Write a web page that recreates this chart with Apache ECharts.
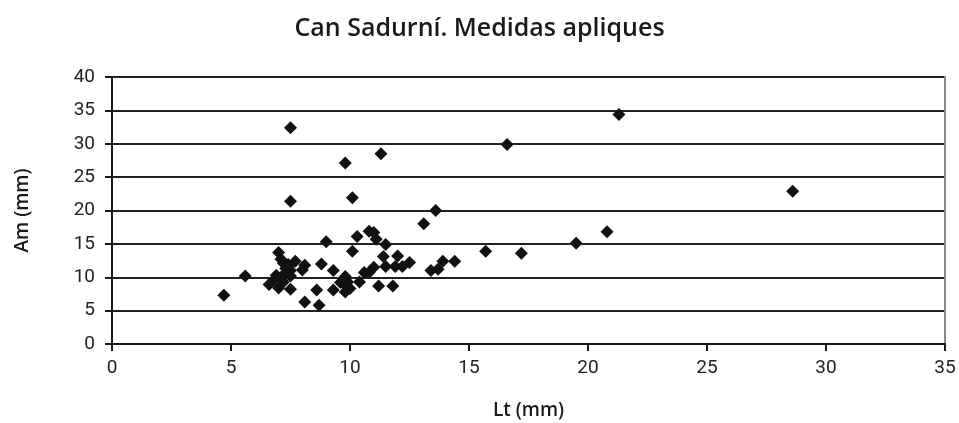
<!DOCTYPE html>
<html>
<head>
<meta charset="utf-8">
<script src="https://cdn.jsdelivr.net/npm/echarts@6/dist/echarts.min.js"></script>
<style>
  html, body { margin: 0; padding: 0; background: #fff; }
  #main { width: 959px; height: 423px; }
</style>
</head>
<body>
<div id="main"></div>
<script>
// Lt (mm) de cada aplique
var lt = [4.7, 5.6, 7.5, 7.5, 9.8, 10.1, 11.3, 13.6, 13.1, 9.0,
  10.1, 10.3, 10.8, 11.0, 11.1, 11.5, 11.4, 11.5, 11.9, 12.0,
  12.2, 12.5, 13.4, 13.7, 13.9, 14.4, 11.0, 10.8, 10.6, 10.4,
  11.2, 11.8, 9.3, 9.3, 8.8, 8.6, 8.7, 8.1, 8.0, 8.1,
  7.7, 7.5, 9.8, 9.9, 9.8, 10.0, 9.8, 9.6, 7.0, 7.1,
  7.2, 7.4, 7.5, 7.3, 7.1, 6.9, 6.6, 7.0, 7.2, 7.5,
  6.8, 7.3, 7.4, 16.6, 21.3, 28.6, 20.8, 19.5, 17.2, 15.7];
// Am (mm) de cada aplique
var am = [7.3, 10.2, 32.4, 21.4, 27.1, 21.9, 28.5, 20.0, 18.0, 15.3,
  13.9, 16.1, 16.9, 16.7, 15.7, 14.9, 13.1, 11.6, 11.6, 13.2,
  11.6, 12.2, 11.0, 11.2, 12.4, 12.4, 11.5, 10.7, 10.7, 9.3,
  8.7, 8.7, 11.0, 8.1, 12.0, 8.1, 5.8, 6.3, 11.1, 11.8,
  12.4, 8.2, 10.1, 9.3, 8.8, 8.3, 7.8, 9.2, 13.7, 12.7,
  12.1, 11.6, 11.0, 10.6, 10.0, 10.3, 8.9, 8.4, 9.3, 10.2,
  9.6, 11.3, 11.9, 29.9, 34.4, 22.9, 16.8, 15.1, 13.6, 13.9];
var xTicks = [0, 5, 10, 15, 20, 25, 30, 35];
var yTicks = [0, 5, 10, 15, 20, 25, 30, 35, 40];

var puntos = [];
for (var i = 0; i < lt.length; i++) {
  puntos.push([lt[i], am[i]]);
}

var chart = echarts.init(document.getElementById('main'));
var option = {
  animation: false,
  backgroundColor: '#fff',
  title: {
    text: 'Can Sadurní. Medidas apliques',
    left: 'center',
    top: 11,
    textStyle: { fontFamily: 'Open Sans', fontWeight: 600, fontSize: 25, color: '#1a1a1a' }
  },
  grid: { left: 112, right: 14, top: 77, bottom: 79, outerBoundsMode: 'none' },
  xAxis: {
    type: 'value',
    min: xTicks[0],
    max: xTicks[xTicks.length - 1],
    interval: 5,
    name: 'Lt (mm)',
    nameLocation: 'middle',
    nameGap: 57,
    nameTextStyle: { fontFamily: 'Open Sans', fontWeight: 600, fontSize: 19, color: '#1a1a1a' },
    axisLine: { onZero: false, lineStyle: { color: '#1a1a1a', width: 2 } },
    axisTick: { show: true, length: 7, lineStyle: { color: '#1a1a1a', width: 2 } },
    axisLabel: { fontFamily: 'Roboto', fontSize: 19, color: '#222', margin: 15 },
    splitLine: { show: false }
  },
  yAxis: [{
    type: 'value',
    min: yTicks[0],
    max: yTicks[yTicks.length - 1],
    interval: 5,
    name: 'Am (mm)',
    nameLocation: 'middle',
    nameGap: 80,
    nameRotate: 90,
    nameTextStyle: { fontFamily: 'Open Sans', fontWeight: 600, fontSize: 19, color: '#1a1a1a' },
    axisLine: { show: true, lineStyle: { color: '#1a1a1a', width: 2 } },
    axisTick: { show: true, length: 7, lineStyle: { color: '#1a1a1a', width: 2 } },
    axisLabel: { fontFamily: 'Roboto', fontSize: 19, color: '#222', margin: 17 },
    splitLine: { show: true, lineStyle: { color: '#222', width: 2 } }
  }, {
    type: 'value',
    position: 'right',
    min: yTicks[0],
    max: yTicks[yTicks.length - 1],
    interval: 5,
    axisLine: { show: true, lineStyle: { color: '#888', width: 2 } },
    axisTick: { show: false },
    axisLabel: { show: false },
    splitLine: { show: false }
  }],
  series: [{
    type: 'scatter',
    data: puntos,
    symbol: 'diamond',
    symbolSize: 13,
    itemStyle: { color: '#111', opacity: 1 }
  }]
};
chart.setOption(option);
</script>
</body>
</html>
